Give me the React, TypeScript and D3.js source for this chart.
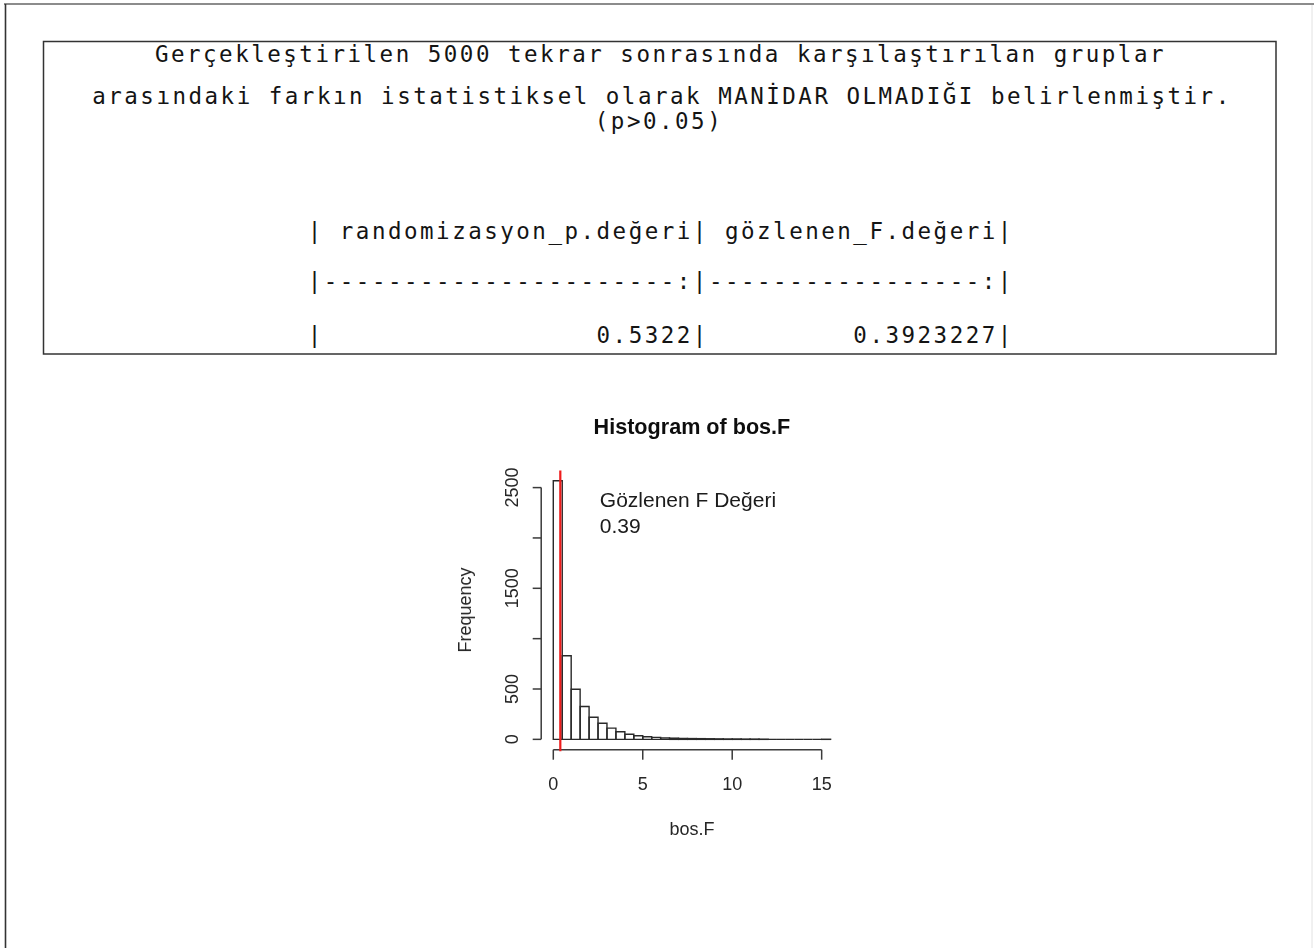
import React from "react";
import * as d3 from "d3";

// Result text shown above the histogram
const summaryLines = [
  "Gerçekleştirilen 5000 tekrar sonrasında karşılaştırılan gruplar",
  "arasındaki farkın istatistiksel olarak MANİDAR OLMADIĞI belirlenmiştir.",
  "(p>0.05)",
];
const tableColumns = ["randomizasyon_p.değeri", "gözlenen_F.değeri"];
const randomizationP = 0.5322;
const observedF = 0.3923227;

// Permutation distribution of the F statistic (bin width 0.5, from 0)
const binWidth = 0.5;
const binCounts = [
  2568, 830, 497, 326, 220, 160, 112, 76, 50, 36, 26, 20, 15, 12, 9, 8, 7, 6, 5,
  4, 4, 3, 3, 2, 0, 0, 0, 0, 0, 0, 1,
];
const xTicks = [0, 5, 10, 15];
const yTicks = [0, 500, 1000, 1500, 2000, 2500];
const yTickLabels = [0, 500, 1500, 2500];

const MONO = "'DejaVu Sans Mono', 'Liberation Mono', monospace";
const SANS = "'Liberation Sans', Arial, sans-serif";
const CHAR_ADV = 16.05;
const MONO_SIZE = 22.5;

function MonoLine({ text, cx, y }: { text: string; cx: number; y: number }) {
  const n = Array.from(text).length;
  const spacing = CHAR_ADV - MONO_SIZE * 0.6021;
  return (
    <text
      x={cx - (n * CHAR_ADV) / 2}
      y={y}
      fontFamily={MONO}
      fontSize={MONO_SIZE}
      letterSpacing={spacing}
      fill="#141414"
      style={{ whiteSpace: "pre" }}
    >
      {text}
    </text>
  );
}

function kableRows(): string[] {
  const w1 = tableColumns[0].length + 1;
  const w2 = tableColumns[1].length + 1;
  const pad = (s: string, w: number) => " ".repeat(w - s.length) + s;
  return [
    "|" + " " + tableColumns[0] + "|" + " " + tableColumns[1] + "|",
    "|" + "-".repeat(w1 - 1) + ":" + "|" + "-".repeat(w2 - 1) + ":" + "|",
    "|" + pad(String(randomizationP), w1) + "|" + pad(String(observedF), w2) + "|",
  ];
}

export default function App() {
  const breaks = d3.range(binCounts.length + 1).map((i) => i * binWidth);
  const bMin = breaks[0];
  const bMax = breaks[breaks.length - 1];
  const bPad = 0.04 * (bMax - bMin);
  const yMax = d3.max(binCounts) as number;

  const x = d3
    .scaleLinear()
    .domain([bMin - bPad, bMax + bPad])
    .range([542.2, 841.7]);
  const y = d3
    .scaleLinear()
    .domain([-0.04 * yMax, 1.04 * yMax])
    .range([749.7, 470.4]);

  const [plotLeft, plotRight] = x.range();
  const [plotBottom, plotTop] = y.range();
  const plotCx = (plotLeft + plotRight) / 2;
  const rows = kableRows();
  const axisColor = "#3a3a3a";
  const textColor = "#262626";

  // each bin as a closed outline so empty bins still leave a flat stroke
  const barPath = (i: number) => {
    const p = d3.path();
    const x0 = x(breaks[i]);
    const x1 = x(breaks[i + 1]);
    const y0 = y(0);
    const y1 = y(binCounts[i]);
    p.moveTo(x0, y0);
    p.lineTo(x0, y1);
    p.lineTo(x1, y1);
    p.lineTo(x1, y0);
    p.closePath();
    return p.toString();
  };

  return (
    <svg
      width={1314}
      height={948}
      style={{ position: "absolute", left: 0, top: 0, background: "#fff" }}
    >
      <defs>
        <filter id="soft" x="-5%" y="-5%" width="110%" height="110%">
          <feGaussianBlur stdDeviation={0.55} />
        </filter>
      </defs>

      {/* page frame */}
      <line x1={4} x2={1314} y1={4} y2={4} stroke="#8c8c8c" strokeWidth={2} />
      <line x1={5.5} x2={5.5} y1={4} y2={948} stroke="#333" strokeWidth={1.6} />
      <line x1={1312} x2={1312} y1={5} y2={948} stroke="#e2e2e2" strokeWidth={1} />

      {/* result box */}
      <rect
        x={43.5}
        y={41.5}
        width={1232.5}
        height={312.5}
        fill="none"
        stroke="#333"
        strokeWidth={1.5}
      />
      <MonoLine text={summaryLines[0]} cx={660.5} y={62} />
      <MonoLine text={summaryLines[1]} cx={662} y={104} />
      <MonoLine text={summaryLines[2]} cx={659} y={129} />
      <MonoLine text={rows[0]} cx={660.8} y={239} />
      <MonoLine text={rows[1]} cx={660.8} y={289} />
      <MonoLine text={rows[2]} cx={660.8} y={343} />

      {/* histogram */}
      <g filter="url(#soft)">
        <text
          x={plotCx}
          y={434}
          textAnchor="middle"
          fontFamily={SANS}
          fontWeight="bold"
          fontSize={21.6}
          fill="#111"
        >
          Histogram of bos.F
        </text>

        {binCounts.map((_, i) => (
          <path
            key={i}
            d={barPath(i)}
            fill="none"
            stroke="#2a2a2a"
            strokeWidth={1.4}
          />
        ))}

        {/* y axis */}
        <line
          x1={plotLeft - 1}
          x2={plotLeft - 1}
          y1={y(yTicks[0])}
          y2={y(yTicks[yTicks.length - 1])}
          stroke={axisColor}
          strokeWidth={1.5}
        />
        {yTicks.map((t) => (
          <line
            key={t}
            x1={plotLeft - 1}
            x2={plotLeft - 9.5}
            y1={y(t)}
            y2={y(t)}
            stroke={axisColor}
            strokeWidth={1.5}
          />
        ))}
        {yTickLabels.map((t) => (
          <text
            key={t}
            transform={`translate(518,${y(t)}) rotate(-90)`}
            textAnchor="middle"
            fontFamily={SANS}
            fontSize={18}
            fill={textColor}
          >
            {t}
          </text>
        ))}
        <text
          transform={`translate(471,${(plotTop + plotBottom) / 2}) rotate(-90)`}
          textAnchor="middle"
          fontFamily={SANS}
          fontSize={18}
          fill={textColor}
        >
          Frequency
        </text>

        {/* x axis */}
        <line
          x1={x(xTicks[0])}
          x2={x(xTicks[xTicks.length - 1])}
          y1={plotBottom}
          y2={plotBottom}
          stroke={axisColor}
          strokeWidth={1.5}
        />
        {xTicks.map((t) => (
          <g key={t}>
            <line
              x1={x(t)}
              x2={x(t)}
              y1={plotBottom}
              y2={plotBottom + 10}
              stroke={axisColor}
              strokeWidth={1.5}
            />
            <text
              x={x(t)}
              y={790}
              textAnchor="middle"
              fontFamily={SANS}
              fontSize={18}
              fill={textColor}
            >
              {t}
            </text>
          </g>
        ))}
        <text
          x={plotCx}
          y={835}
          textAnchor="middle"
          fontFamily={SANS}
          fontSize={18}
          fill={textColor}
        >
          bos.F
        </text>

        {/* observed F */}
        <line
          x1={x(observedF)}
          x2={x(observedF)}
          y1={plotTop}
          y2={plotBottom + 1.5}
          stroke="#ee1c1c"
          strokeWidth={2.2}
        />
        <text fontFamily={SANS} fontSize={21} fill="#1a1a1a">
          <tspan x={x(2.6)} y={507}>
            Gözlenen F Değeri
          </tspan>
          <tspan x={x(2.6)} y={533}>
            {observedF.toFixed(2)}
          </tspan>
        </text>
      </g>
    </svg>
  );
}
